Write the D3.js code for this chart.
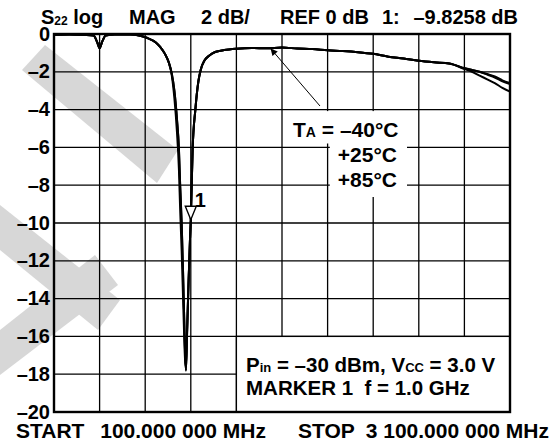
<!DOCTYPE html>
<html>
<head>
<meta charset="utf-8">
<script src="https://cdn.jsdelivr.net/npm/d3@7"></script>
<style>
  html, body { margin: 0; padding: 0; background: #fff; }
  svg { display: block; font-family: "Liberation Sans", Arial, Helvetica, sans-serif; font-weight: bold; }
</style>
</head>
<body>
<svg id="chart" width="560" height="446"></svg>
<script>
// data ---------------------------------------------------------------
const freqMHz = [100, 200, 300, 360, 385, 400, 415, 440, 500, 600,
  660, 710, 770, 800, 830, 855, 875, 892, 909, 922,
  930, 940, 951, 962, 968, 975, 985, 995, 1000, 1012,
  1030, 1050, 1065, 1090, 1120, 1160, 1220, 1300, 1400, 1500,
  1600, 1700, 1800, 1900, 2000, 2100, 2200, 2300, 2400, 2500,
  2600, 2700, 2800, 2850, 2900, 2950, 3000, 3050, 3100];

const s22_m40 = [-0.05, -0.03, -0.05, -0.08, -0.45, -0.76, -0.45, -0.08, -0.02, -0.03,
  -0.08, -0.2, -0.45, -0.7, -1.05, -1.5, -2.2, -3.4, -5.2, -7.2,
  -9.3, -11.5, -14.5, -17.2, -17.6, -15.8, -13.2, -10.8, -9.83, -6.1,
  -4.0, -2.5, -1.9, -1.4, -1.15, -0.95, -0.85, -0.78, -0.74, -0.76,
  -0.72, -0.77, -0.8, -0.86, -0.9, -0.96, -1.05, -1.2, -1.3, -1.42,
  -1.5, -1.56, -1.8, -1.9, -2.0, -2.12, -2.25, -2.45, -2.6];

const s22_p25 = [-0.05, -0.03, -0.05, -0.08, -0.45, -0.76, -0.45, -0.08, -0.02, -0.03,
  -0.08, -0.2, -0.45, -0.7, -1.05, -1.5, -2.1, -3.0, -4.5, -6.1,
  -8.0, -10.0, -13.2, -16.7, -17.8, -16.0, -13.2, -10.8, -9.83, -6.1,
  -4.0, -2.5, -1.9, -1.4, -1.15, -0.95, -0.85, -0.78, -0.74, -0.76,
  -0.72, -0.77, -0.8, -0.86, -0.9, -0.96, -1.05, -1.2, -1.3, -1.42,
  -1.5, -1.56, -1.82, -1.9, -2.0, -2.15, -2.3, -2.5, -2.65];

const s22_p85 = [-0.05, -0.03, -0.05, -0.08, -0.45, -0.76, -0.45, -0.08, -0.02, -0.03,
  -0.08, -0.2, -0.45, -0.7, -1.05, -1.5, -2.1, -3.0, -4.5, -6.1,
  -8.0, -10.0, -13.2, -16.7, -17.8, -16.0, -13.2, -10.8, -9.83, -6.1,
  -4.0, -2.5, -1.9, -1.4, -1.15, -0.95, -0.85, -0.78, -0.74, -0.76,
  -0.72, -0.77, -0.8, -0.86, -0.9, -0.96, -1.05, -1.2, -1.3, -1.42,
  -1.5, -1.56, -1.85, -2.0, -2.2, -2.4, -2.6, -2.85, -3.05];

const yTicks = [0, -2, -4, -6, -8, -10, -12, -14, -16, -18, -20];
const xGridMHz = [100, 400, 700, 1000, 1300, 1600, 1900, 2200, 2500, 2800, 3100];
const tempLabels = ['+25°C', '+85°C'];
const markerMHz = 1000;
const markerDb = -9.8258;

// scales ---------------------------------------------------------------
const svg = d3.select('#chart');
const x = d3.scaleLinear().domain([100, 3100]).range([54, 510]);
const y = d3.scaleLinear().domain([0, -20]).range([34, 412]);
const fmt = (v) => (v < 0 ? '\u2013' + Math.abs(v) : String(v));

// grey watermark behind the grid (decoration only)
const stripes = [
  [[45, 45], [178, 150], [157, 183], [22, 70]],
  [[0, 205], [120, 300], [98, 330], [0, 250]],
  [[0, 330], [95, 255], [118, 285], [0, 375]]
];
svg.append('g').selectAll('polygon').data(stripes).join('polygon')
  .attr('points', (d) => d.map((p) => p.join(',')).join(' '))
  .attr('fill', '#d7d7d7');

// grid
const grid = svg.append('g').attr('stroke', '#000').attr('stroke-width', 1.3);
grid.selectAll('line.v').data(xGridMHz).join('line')
  .attr('class', 'v')
  .attr('x1', (d) => x(d)).attr('x2', (d) => x(d))
  .attr('y1', y(0)).attr('y2', y(-20));
grid.selectAll('line.h').data(yTicks).join('line')
  .attr('class', 'h')
  .attr('x1', x(100)).attr('x2', x(3100))
  .attr('y1', (d) => y(d)).attr('y2', (d) => y(d));

// cleared info box in the lower right cells
svg.append('rect')
  .attr('x', x(1300)).attr('y', y(-16))
  .attr('width', x(3100) - x(1300)).attr('height', y(-20) - y(-16))
  .attr('fill', '#fff').attr('stroke', '#000').attr('stroke-width', 1.3);

// frame
svg.append('rect')
  .attr('x', x(100)).attr('y', y(0))
  .attr('width', x(3100) - x(100)).attr('height', y(-20) - y(0))
  .attr('fill', 'none').attr('stroke', '#000').attr('stroke-width', 2.4);

// y labels
svg.append('g').selectAll('text').data(yTicks).join('text')
  .attr('x', 50).attr('y', (d) => y(d) + 6.5)
  .attr('text-anchor', 'end').attr('font-size', 20)
  .text(fmt);

// traces
const line = d3.line()
  .x((d, i) => x(freqMHz[i]))
  .y((d) => y(d))
  .curve(d3.curveMonotoneX);
svg.append('g').selectAll('path').data([s22_m40, s22_p25, s22_p85]).join('path')
  .attr('d', line)
  .attr('fill', 'none').attr('stroke', '#000').attr('stroke-width', 2)
  .attr('stroke-linejoin', 'round');

// marker 1
const mx = x(markerMHz), my = y(markerDb);
svg.append('path')
  .attr('d', `M${mx - 5.5},${my - 13.5}L${mx + 5.5},${my - 13.5}L${mx},${my}Z`)
  .attr('fill', '#fff').attr('stroke', '#000').attr('stroke-width', 1.4);
svg.append('text').attr('x', mx + 4).attr('y', my - 13).attr('font-size', 20).text('1');

// header
const head = svg.append('g').attr('font-size', 20);
const s22 = head.append('text').attr('x', 41).attr('y', 24);
s22.append('tspan').text('S');
s22.append('tspan').attr('font-size', 12).attr('dy', 1).text('22');
s22.append('tspan').attr('dy', -1).text(' log');
head.append('text').attr('x', 129).attr('y', 24).text('MAG');
head.append('text').attr('x', 201).attr('y', 24).text('2 dB/');
head.append('text').attr('x', 280).attr('y', 24).text('REF 0 dB');
head.append('text').attr('x', 382).attr('y', 24).text('1:');
head.append('text').attr('x', 518).attr('y', 24).attr('text-anchor', 'end').text('\u20139.8258 dB');

// footer
const foot = svg.append('g').attr('font-size', 21);
foot.append('text').attr('x', 16).attr('y', 438).text('START');
foot.append('text').attr('x', 266).attr('y', 438).attr('text-anchor', 'end').text('100.000 000 MHz');
foot.append('text').attr('x', 298).attr('y', 438).text('STOP');
foot.append('text').attr('x', 549).attr('y', 438).attr('text-anchor', 'end').text('3 100.000 000 MHz');

// temperature legend with arrow
svg.append('defs').append('marker')
  .attr('id', 'ah').attr('viewBox', '0 0 10 10').attr('refX', 9).attr('refY', 5)
  .attr('markerWidth', 9).attr('markerHeight', 7).attr('markerUnits', 'userSpaceOnUse')
  .attr('orient', 'auto')
  .append('path').attr('d', 'M0,0L10,5L0,10Z').attr('fill', '#000');
svg.append('line')
  .attr('x1', 320).attr('y1', 106).attr('x2', 271).attr('y2', 49)
  .attr('stroke', '#000').attr('stroke-width', 1).attr('marker-end', 'url(#ah)');

const leg = svg.append('g').attr('font-size', 21);
const bg1 = leg.append('rect').attr('fill', '#fff');
const bg2 = leg.append('rect').attr('fill', '#fff');
const t1 = leg.append('text').attr('x', 293).attr('y', 137);
t1.append('tspan').text('T');
t1.append('tspan').attr('font-size', 14).text('A');
t1.append('tspan').text(' = \u201340°C');
const t2 = leg.selectAll('text.t').data(tempLabels).join('text')
  .attr('class', 't')
  .attr('x', 397).attr('y', (d, i) => 162 + i * 25)
  .attr('text-anchor', 'end').text((d) => d);
const b1 = t1.node().getBBox();
bg1.attr('x', b1.x - 4).attr('y', y(-4) + 1.5).attr('width', b1.width + 10).attr('height', b1.y + b1.height - y(-4) + 1);
const b2a = t2.nodes()[0].getBBox(), b2b = t2.nodes()[1].getBBox();
bg2.attr('x', b2a.x - 8).attr('y', b1.y + b1.height).attr('width', b2a.width + 18)
  .attr('height', b2b.y + b2b.height + 6 - (b1.y + b1.height));

// conditions box text
const info = svg.append('g').attr('font-size', 20.5);
const i1 = info.append('text').attr('x', 246).attr('y', 372);
i1.append('tspan').text('P');
i1.append('tspan').attr('font-size', 13).text('in');
i1.append('tspan').text(' = \u201330 dBm, V');
i1.append('tspan').attr('font-size', 13).text('CC');
i1.append('tspan').text(' = 3.0 V');
info.append('text').attr('x', 246).attr('y', 395).style('white-space', 'pre').text('MARKER 1  f = 1.0 GHz');
</script>
</body>
</html>
